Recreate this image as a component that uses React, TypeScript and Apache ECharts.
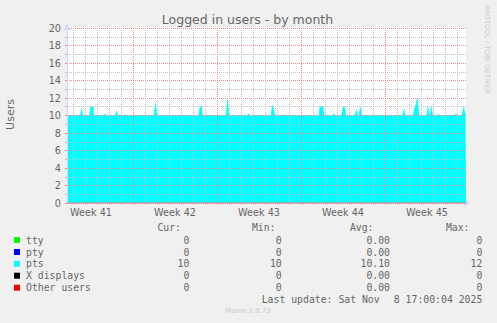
import React, { useEffect, useRef } from "react";
import * as echarts from "echarts";

// x = days since Mon 6 Oct 2025 00:00 (start of week 41)
const xMin = 1.5;
const xMax = 34.75;
const weekLabelPos = [3.5, 10.5, 17.5, 24.5, 31.5];
const weekLabels = ["Week 41", "Week 42", "Week 43", "Week 44", "Week 45"];
const weekLines = [7, 14, 21, 28];
const dayLines = [2, 3, 4, 5, 6, 8, 9, 10, 11, 12, 13, 15, 16, 17, 18, 19, 20, 22, 23, 24, 25, 26, 27, 29, 30, 31, 32, 33, 34];
const allDayTicks = [2, 3, 4, 5, 6, 7, 8, 9, 10, 11, 12, 13, 14, 15, 16, 17, 18, 19, 20, 21, 22, 23, 24, 25, 26, 27, 28, 29, 30, 31, 32, 33, 34];

// pts logged-in users: [day, users]
const ptsData: [number, number][] = [
  [1.5, 10],
  [2.61, 10], [2.71, 10.8], [2.81, 10],
  [3.375, 10], [3.46, 11], [3.67, 11], [3.75, 10],
  [4.58, 10], [4.67, 10.2], [4.75, 10],
  [5.53, 10], [5.64, 10.5], [5.75, 10],
  [8.75, 10], [8.875, 11.4], [9.0, 10],
  [12.475, 10], [12.58, 11], [12.71, 11], [12.79, 10],
  [14.75, 10], [14.875, 11.9], [15.0, 10],
  [16.56, 10], [16.64, 10.2], [16.72, 10],
  [18.5, 10], [18.625, 11.2], [18.83, 10],
  [22.5, 10], [22.58, 11], [22.83, 11], [22.94, 10],
  [23.64, 10], [23.75, 10.2], [23.83, 10],
  [24.39, 10], [24.5, 11], [24.625, 11], [24.72, 10],
  [25.5, 10], [25.6, 10.6], [25.72, 10],
  [25.83, 10], [25.94, 11], [26.06, 10],
  [26.92, 10], [27.0, 10.1], [27.08, 10],
  [29.47, 10], [29.58, 10.7], [29.69, 10],
  [30.33, 10], [30.5, 11], [30.58, 11.3], [30.69, 12], [30.77, 11], [30.83, 10],
  [31.475, 10], [31.58, 11], [31.69, 10],
  [31.75, 10], [31.86, 11], [31.97, 10],
  [32.42, 10], [32.54, 10.1], [32.67, 10],
  [33.83, 10], [33.92, 10.2], [34.0, 10],
  [34.42, 10], [34.56, 11], [34.72, 10],
  [34.75, 10],
];
const otherData: [number, number][] = [[1.5, 0], [34.75, 0]];

const legendNames = ["tty", "pty", "pts", "X displays", "Other users"];
const legendColors = ["#00FF00", "#0000FF", "#00FFFF", "#000000", "#FF0000"];
const curValues = ["0", "0", "10", "0", "0"];
const minValues = ["0", "0", "10", "0", "0"];
const avgValues = ["0.00", "0.00", "10.10", "0.00", "0.00"];
const maxValues = ["0", "0", "12", "0", "0"];
const statHeaders = ["Cur:", "Min:", "Avg:", "Max:"];

const FONT = "#666666";
const MONO = "'DejaVu Sans Mono', monospace";
const SANS = "'DejaVu Sans', sans-serif";
const MINOR = "#C0C0C0";
const MAJOR = "#EE8888";

export default function App() {
  const ref = useRef<HTMLDivElement>(null);
  useEffect(() => {
    if (!ref.current) return;
    const chart = echarts.init(ref.current, undefined, { renderer: "svg" });

    const graphics: any[] = [];
    graphics.push({
      type: "text", x: 247.5, y: 19,
      style: { text: "Logged in users - by month", font: `12.5px ${SANS}`, fill: FONT, textAlign: "center", textVerticalAlign: "middle" },
    });
    graphics.push({
      type: "text", x: 10.5, y: 114.5, rotation: Math.PI / 2,
      style: { text: "Users", font: `11px ${SANS}`, fill: FONT, textAlign: "center", textVerticalAlign: "middle" },
    });
    graphics.push({
      type: "text", x: 487, y: 5, rotation: -Math.PI / 2,
      style: { text: "RRDTOOL / TOBI OETIKER", font: `6.9px ${SANS}`, fill: "#c8c8c8", textAlign: "left", textVerticalAlign: "middle" },
    });
    const headerRight = [181, 275.5, 373.5, 469.5];
    const colRight = [189.3, 281.7, 390, 482.3];
    const cols = [curValues, minValues, avgValues, maxValues];
    statHeaders.forEach((h, i) => {
      graphics.push({
        type: "text", x: headerRight[i], y: 227.3,
        style: { text: h, font: `9.8px ${MONO}`, fill: FONT, textAlign: "right", textVerticalAlign: "middle" },
      });
    });
    const rowY = [240, 252, 263.8, 275.7, 287.7];
    legendNames.forEach((n, r) => {
      graphics.push({
        type: "rect", shape: { x: 14, y: rowY[r] - 3, width: 6, height: 6 },
        style: { fill: legendColors[r] },
      });
      graphics.push({
        type: "text", x: 26, y: rowY[r],
        style: { text: n, font: `9.8px ${MONO}`, fill: FONT, textAlign: "left", textVerticalAlign: "middle" },
      });
      cols.forEach((c, i) => {
        graphics.push({
          type: "text", x: colRight[i], y: rowY[r],
          style: { text: c[r], font: `9.8px ${MONO}`, fill: FONT, textAlign: "right", textVerticalAlign: "middle" },
        });
      });
    });
    graphics.push({
      type: "text", x: 482.3, y: 299.7,
      style: { text: "8 17:00:04 2025", font: `9.8px ${MONO}`, fill: FONT, textAlign: "right", textVerticalAlign: "middle" },
    });
    graphics.push({
      type: "text", x: 261.7, y: 299.7,
      style: { text: "Last update: Sat Nov", font: `9.8px ${MONO}`, fill: FONT, textAlign: "left", textVerticalAlign: "middle" },
    });
    graphics.push({
      type: "text", x: 248, y: 311,
      style: { text: "Munin 2.0.73", font: `6.9px ${SANS}`, fill: "#c8c8c8", textAlign: "center", textVerticalAlign: "middle" },
    });

    chart.setOption({
      animation: false,
      backgroundColor: "#F0F0F0",
      grid: { left: 67, top: 28, width: 399, height: 175, show: true, backgroundColor: "#FFFFFF", borderWidth: 0 },
      xAxis: {
        type: "value", min: xMin, max: xMax, z: 1,
        axisLine: { show: true, lineStyle: { color: "#CFD6F8", width: 1 }, symbol: ["none", "arrow"], symbolSize: [6, 7], symbolOffset: [0, 4] },
        axisTick: { show: true, customValues: allDayTicks, length: 2, lineStyle: { color: MINOR } },
        axisLabel: {
          customValues: weekLabelPos, margin: 4, color: FONT, fontFamily: SANS, fontSize: 9.7,
          formatter: (v: number) => { const i = weekLabelPos.indexOf(v); return i >= 0 ? weekLabels[i] : ""; },
        },
        splitLine: { show: false },
      },
      yAxis: {
        type: "value", min: 0, max: 20, interval: 2, z: 3,
        axisLine: { show: true, lineStyle: { color: "#CFD6F8", width: 1 }, symbol: ["none", "arrow"], symbolSize: [6, 7], symbolOffset: [0, 4] },
        axisTick: { show: true, length: 2, lineStyle: { color: MAJOR } },
        minorTick: { show: true, splitNumber: 2, length: 2, lineStyle: { color: MINOR } },
        axisLabel: { margin: 6, color: FONT, fontFamily: SANS, fontSize: 9.7 },
        splitLine: { show: true, lineStyle: { color: MAJOR, type: [1, 1], width: 1 } },
        minorSplitLine: { show: true, lineStyle: { color: MINOR, type: [1, 1], width: 1 } },
      },
      series: [
        {
          name: "pts", type: "line", data: ptsData, symbol: "none", z: 2,
          lineStyle: { width: 0.5, color: "#00FFFF" },
          areaStyle: { color: "#00FFFF", opacity: 1 },
          markLine: {
            silent: true, symbol: "none", label: { show: false }, z: 4,
            data: [
              ...dayLines.map((d) => ({ xAxis: d, lineStyle: { color: MINOR, type: [1, 1], width: 1 } })),
              ...weekLines.map((d) => ({ xAxis: d, lineStyle: { color: MAJOR, type: [1, 1], width: 1 } })),
            ],
          },
        },
        {
          name: "Other users", type: "line", data: otherData, symbol: "none", z: 5,
          lineStyle: { width: 1, color: "#F07878" },
        },
      ],
      graphic: graphics,
    });
    return () => chart.dispose();
  }, []);
  return <div ref={ref} style={{ position: "fixed", left: 0, top: 0, width: 497, height: 323 }} />;
}
